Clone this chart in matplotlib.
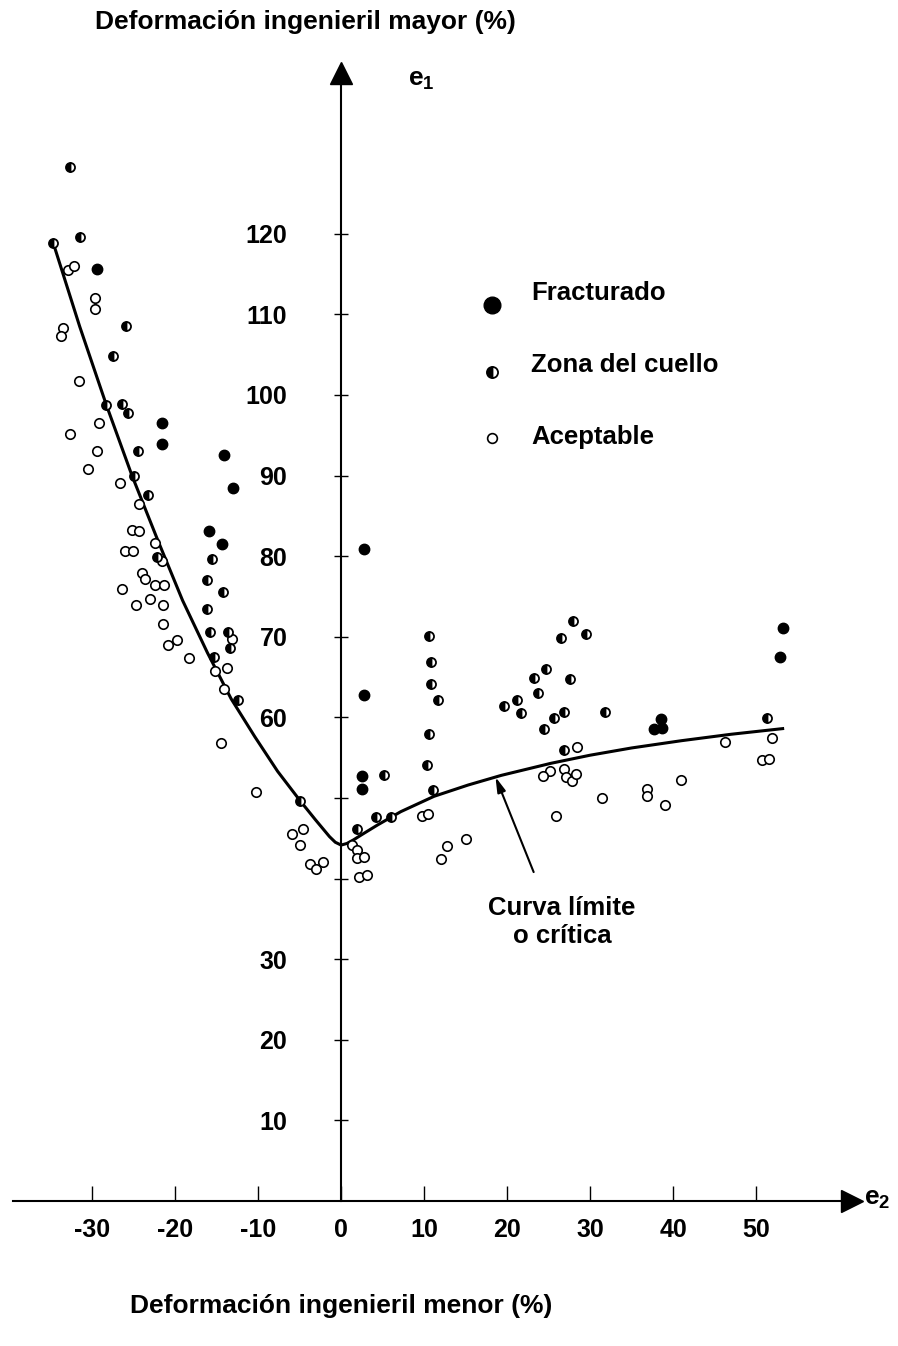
import matplotlib
matplotlib.use("Agg")
import matplotlib.pyplot as plt

plt.rcParams['font.family'] = ['Liberation Sans', 'DejaVu Sans']
plt.rcParams['font.weight'] = 'bold'
plt.rcParams['axes.unicode_minus'] = False
plt.rcParams['mathtext.fontset'] = 'custom'
plt.rcParams['mathtext.rm'] = 'Liberation Sans:bold'
plt.rcParams['mathtext.bf'] = 'Liberation Sans:bold'
plt.rcParams['mathtext.it'] = 'Liberation Sans:bold'

# Datos (e2 = deformacion menor, e1 = deformacion mayor, en %)
frac_e2 = [-29.4, -21.6, -21.6, -14.1, -13.0, -15.9, -14.4, 2.7, 2.5, 2.5, 2.7,
           53.2, 52.9, 38.6, 37.7, 38.7]
frac_e1 = [115.6, 96.5, 93.9, 92.5, 88.4, 83.1, 81.5, 62.8, 52.7, 51.1, 80.9,
           71.1, 67.5, 59.8, 58.6, 58.7]

cuello_e2 = [-32.7, -34.7, -31.5, -25.9, -27.5, -28.3, -26.4, -25.7, -24.5, -24.9,
             -23.3, -22.2, -15.6, -16.2, -14.2, -16.2, -15.8, -13.6, -13.4, -15.3,
             -12.4, 10.8, 11.7, 10.6, 10.4, 11.1, 5.2, -4.9, 1.9, 4.2,
             6.0, 10.6, 10.8, 27.9, 26.5, 29.5, 24.7, 23.3, 27.6, 23.7,
             19.6, 21.2, 21.7, 24.4, 25.6, 26.9, 31.8, 51.3, 26.8]
cuello_e1 = [128.3, 118.9, 119.6, 108.5, 104.8, 98.8, 98.9, 97.8, 93.1, 89.9,
             87.6, 79.9, 79.7, 77.1, 75.5, 73.5, 70.6, 70.6, 68.6, 67.5,
             62.2, 64.1, 62.2, 57.9, 54.1, 51.0, 52.8, 49.6, 46.2, 47.6,
             47.6, 70.1, 66.9, 72.0, 69.9, 70.4, 66.0, 64.9, 64.8, 63.0,
             61.4, 62.2, 60.5, 58.6, 59.9, 60.6, 60.7, 59.9, 56.0]

acept_e2 = [-32.9, -32.2, -29.6, -29.6, -33.5, -33.8, -31.6, -29.2, -32.7, -29.4,
            -30.5, -26.6, -24.4, -25.2, -24.4, -22.4, -26.0, -25.1, -21.6, -24.0,
            -23.6, -22.4, -21.3, -26.4, -23.0, -24.7, -21.4, -21.4, -13.2, -19.8,
            -20.8, -18.3, -13.8, -15.2, -14.1, -14.5, -10.3, -5.9, -4.6, -4.9,
            -3.8, -3.0, -2.2, 9.7, 10.5, 1.3, 1.9, 1.9, 2.8, 2.2,
            3.1, 12.8, 12.0, 15.0, 51.9, 46.3, 50.7, 51.6, 40.9, 36.9,
            36.8, 39.0, 31.4, 28.4, 25.2, 24.3, 26.9, 27.1, 27.8, 28.3,
            25.9]
acept_e1 = [115.5, 116.0, 112.0, 110.6, 108.3, 107.3, 101.7, 96.5, 95.1, 93.0,
            90.8, 89.1, 86.5, 83.3, 83.1, 81.6, 80.6, 80.6, 79.4, 77.9,
            77.2, 76.4, 76.4, 75.9, 74.7, 73.9, 73.9, 71.6, 69.7, 69.6,
            69.0, 67.3, 66.1, 65.7, 63.5, 56.8, 50.7, 45.5, 46.1, 44.1,
            41.8, 41.2, 42.1, 47.7, 48.0, 44.1, 43.5, 42.5, 42.7, 40.2,
            40.4, 44.0, 42.4, 44.9, 57.4, 56.9, 54.7, 54.8, 52.2, 51.1,
            50.2, 49.1, 50.0, 56.3, 53.3, 52.7, 53.6, 52.6, 52.1, 53.0,
            47.7]

# Curva limite de conformado
curva_e2 = [-34.7, -31.5, -28.3, -25.2, -22.1, -19.1, -16.1, -13.25, -10.4, -7.65,
            -4.9, -3.1, -1.4, -0.7, 0.0, 0.7, 1.5, 2.5, 4.4, 7.2,
            11.2, 15.3, 19.3, 25.3, 30.0, 35.0, 41.0, 47.0, 53.2]
curva_e1 = [118.9, 108.5, 98.8, 90.0, 82.0, 74.5, 68.0, 62.3, 57.6, 53.3,
            49.6, 47.3, 45.2, 44.5, 44.15, 44.35, 44.8, 45.45, 46.65, 48.3,
            50.2, 51.6, 52.8, 54.3, 55.3, 56.2, 57.1, 57.9, 58.6]

x_ticks = [-30, -20, -10, 0, 10, 20, 30, 40, 50]
y_ticks = [10, 20, 30, 40, 50, 60, 70, 80, 90, 100, 110, 120]
y_labels = ['10', '20', '30', '', '', '60', '70', '80', '90', '100', '110', '120']

fig = plt.figure(figsize=(8.98, 13.46), dpi=100)
ax = fig.add_axes([0, 0, 1, 1])
ax.set_xlim(-41.1, 67.1)
ax.set_ylim(-18.0, 149.0)

# ejes que se cruzan en el origen
for s in ['top', 'right']:
    ax.spines[s].set_visible(False)
ax.spines['left'].set_position(('data', 0))
ax.spines['bottom'].set_position(('data', 0))
ax.spines['left'].set_bounds(0, 139)
ax.spines['bottom'].set_bounds(-39.5, 61)
ax.spines['left'].set_linewidth(1.5)
ax.spines['bottom'].set_linewidth(1.5)
ax.plot(0, 140, marker='^', ms=16, color='k', clip_on=False)
ax.plot(61.5, 0, marker='>', ms=16, color='k', clip_on=False)

ax.set_xticks(x_ticks)
ax.set_yticks(y_ticks)
ax.set_yticklabels(y_labels)
ax.tick_params(axis='x', direction='in', length=11, width=1, pad=12, labelsize=18)
ax.tick_params(axis='y', direction='inout', length=9.5, width=1, pad=34, labelsize=18)

# curva y puntos
ax.plot(curva_e2, curva_e1, color='k', lw=2.2, zorder=2, solid_joinstyle='round')
ax.plot(acept_e2, acept_e1, 'o', ms=6.8, mfc='white', mec='k', mew=1.2, ls='none', zorder=3)
ax.plot(cuello_e2, cuello_e1, 'o', ms=6.5, mfc='k', mfcalt='white', fillstyle='left',
        mec='k', mew=1.3, ls='none', zorder=3)
ax.plot(frac_e2, frac_e1, 'o', ms=7.5, mfc='k', mec='k', ls='none', zorder=3)

# leyenda
ax.plot(18.2, 111.2, 'o', ms=12, color='k')
ax.plot(18.2, 102.9, 'o', ms=8, mfc='k', mfcalt='white', fillstyle='left', mec='k', mew=1.3)
ax.plot(18.2, 94.7, 'o', ms=7, mfc='white', mec='k', mew=1.2)
ax.text(22.9, 112.7, 'Fracturado', fontsize=18.5, va='center')
ax.text(22.9, 103.7, 'Zona del cuello', fontsize=18.5, va='center')
ax.text(22.9, 94.8, 'Aceptable', fontsize=18.5, va='center')

# anotacion de la curva
ax.annotate('', xy=(18.6, 52.6), xytext=(23.2, 40.8),
            arrowprops=dict(arrowstyle='-|>,head_length=0.9,head_width=0.25',
                            lw=1.5, color='k', shrinkA=0, shrinkB=0))
ax.text(26.6, 34.6, 'Curva límite\no crítica', fontsize=18.5, ha='center', va='center',
        linespacing=1.2)

ax.text(8.0, 139.1, r'$\mathbf{e}_\mathbf{1}$', fontsize=19, va='center')
ax.text(63.0, 0.3, r'$\mathbf{e}_\mathbf{2}$', fontsize=19, va='center')

fig.text(305.5 / 898, 1 - 22 / 1346, 'Deformación ingenieril mayor (%)',
         fontsize=19, ha='center', va='center')
fig.text(341 / 898, 1 - 1306 / 1346, 'Deformación ingenieril menor (%)',
         fontsize=19, ha='center', va='center')

fig.savefig('out.png', dpi=100)
